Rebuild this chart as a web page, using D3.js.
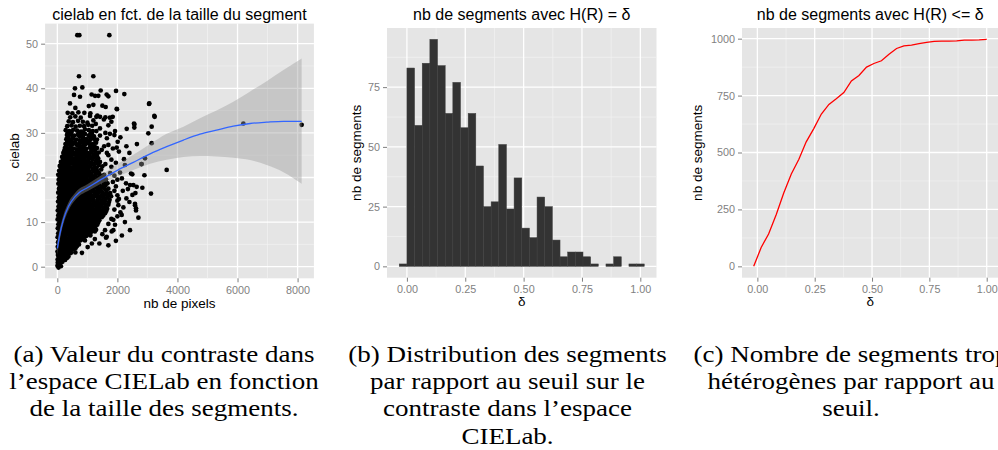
<!DOCTYPE html>
<html><head><meta charset="utf-8">
<script src="https://cdn.jsdelivr.net/npm/d3@7"></script>
<style>body{margin:0;background:#fff}svg{display:block}</style>
</head><body>
<svg id="chart" width="998" height="450"></svg>
<script>
// ---------- Panel (a): scatter cielab vs nb de pixels ----------
const titleA = "cielab en fct. de la taille du segment";
const scatterPoints = [
[5,0.2],[40,-0.2],[80,0.5],[120,0.1],[15,0.9],[60,1.1],
[10,1.6],[70,1.8],[140,1.4],[200,1.9],[260,1.5],
[20,2.6],[90,2.4],[160,2.8],[230,2.5],[300,2.7],[370,2.3],
[5,3.4],[70,3.6],[140,3.3],[210,3.8],[280,3.5],[350,3.6],[420,3.4],[490,3.9],[600,3.2],[820,3.1],
[15,4.5],[90,4.7],[170,4.4],[250,4.8],[330,4.5],[410,4.6],[490,4.4],[570,4.9],[650,4.6],[1010,4.4],
[25,5.5],[110,5.7],[190,5.4],[270,5.6],[350,5.8],[430,5.5],[510,5.4],[590,5.7],[680,5.5],[760,5.9],[1150,5.2],
[10,6.6],[95,6.4],[180,6.7],[265,6.5],[350,6.3],[440,6.8],[525,6.5],[610,6.6],[700,6.4],[790,6.7],[880,6.5],[960,6.9],[1250,6.2],[1621,6.5],[1644,6.7],
[30,7.5],[120,7.7],[210,7.4],[300,7.6],[390,7.5],[480,7.8],[570,7.4],[660,7.6],[750,7.5],[840,7.7],[930,7.4],[1020,7.8],[1110,7.6],[1500,7.3],[1810,7.9],
[15,8.6],[105,8.4],[195,8.7],[285,8.5],[375,8.3],[465,8.8],[555,8.6],[645,8.4],[735,8.7],[825,8.5],[915,8.6],[1010,8.4],[1100,8.8],[1200,8.5],[1290,8.3],[1588,8.2],[1865,8.2],[2420,8.2],
[35,9.5],[125,9.7],[215,9.4],[305,9.6],[395,9.5],[485,9.8],[575,9.4],[665,9.6],[755,9.5],[845,9.7],[935,9.3],[1030,9.6],[1120,9.5],[1220,9.8],[1330,9.4],[1700,9.6],[1921,9.4],
[10,10.6],[100,10.4],[190,10.7],[280,10.5],[370,10.3],[460,10.8],[550,10.6],[640,10.4],[730,10.7],[820,10.5],[910,10.6],[1000,10.3],[1090,10.8],[1180,10.5],[1280,10.6],[1400,10.4],[1800,10.7],[1865,10.5],
[30,11.5],[120,11.7],[210,11.4],[300,11.6],[390,11.5],[480,11.8],[570,11.4],[660,11.6],[750,11.5],[840,11.7],[930,11.3],[1020,11.6],[1110,11.5],[1200,11.8],[1300,11.4],[1420,11.6],[1530,11.5],[2000,11.3],[2143,11.6],
[15,12.6],[105,12.4],[195,12.7],[285,12.5],[375,12.3],[465,12.8],[555,12.6],[645,12.4],[735,12.7],[825,12.5],[915,12.6],[1005,12.3],[1095,12.8],[1190,12.5],[1290,12.6],[1400,12.4],[1520,12.7],[1630,12.5],[2100,12.2],[2620,12.6],[2620,13.1],
[40,13.5],[130,13.7],[220,13.4],[310,13.6],[400,13.5],[490,13.8],[580,13.4],[670,13.6],[760,13.5],[850,13.7],[940,13.3],[1030,13.6],[1130,13.5],[1240,13.8],[1350,13.4],[1470,13.6],[1600,13.5],[1700,13.9],[2200,13.3],[2032,13.8],[2587,13.8],
[25,14.6],[115,14.4],[205,14.7],[295,14.5],[385,14.3],[475,14.8],[565,14.6],[655,14.4],[745,14.7],[835,14.5],[925,14.6],[1020,14.3],[1120,14.8],[1230,14.5],[1340,14.6],[1460,14.4],[1580,14.7],[1720,14.5],[2000,14.8],[2586,14.1],
[50,15.5],[140,15.7],[230,15.4],[320,15.6],[410,15.5],[500,15.8],[590,15.4],[680,15.6],[770,15.5],[860,15.7],[950,15.3],[1050,15.6],[1160,15.5],[1280,15.8],[1400,15.4],[1530,15.6],[1660,15.5],[1790,15.8],[2300,15.3],[2500,16.1],[2000,16.0],
[30,16.6],[120,16.4],[210,16.7],[300,16.5],[390,16.3],[480,16.8],[570,16.6],[660,16.4],[750,16.7],[840,16.5],[930,16.6],[1030,16.3],[1140,16.8],[1260,16.5],[1380,16.6],[1510,16.4],[1640,16.7],[1760,16.5],[3119,16.4],[1900,17.0],
[55,17.5],[145,17.7],[235,17.4],[325,17.6],[415,17.5],[505,17.8],[595,17.4],[685,17.6],[775,17.5],[865,17.7],[960,17.3],[1060,17.6],[1170,17.5],[1290,17.8],[1420,17.4],[1560,17.6],[1700,17.5],[2350,17.4],[2642,17.9],[2831,17.7],
[35,18.6],[125,18.4],[215,18.7],[305,18.5],[395,18.3],[485,18.8],[575,18.6],[665,18.4],[755,18.7],[845,18.5],[940,18.6],[1040,18.3],[1150,18.8],[1270,18.5],[1400,18.6],[1540,18.4],[1670,18.7],[2287,18.7],[2531,18.3],[2420,18.3],[1850,19.0],
[45,19.5],[135,19.7],[225,19.4],[315,19.6],[405,19.5],[495,19.8],[590,19.4],[690,19.6],[790,19.5],[890,19.7],[990,19.3],[1100,19.6],[1220,19.5],[1350,19.8],[1480,19.4],[1620,19.6],[2000,19.5],
[30,20.6],[130,20.4],[230,20.7],[330,20.5],[430,20.3],[530,20.8],[630,20.6],[730,20.4],[830,20.7],[930,20.5],[1040,20.6],[1160,20.3],[1290,20.8],[1420,20.5],[1560,20.6],[1900,20.4],[2453,20.9],[2497,20.7],[1760,21.0],
[60,21.5],[160,21.7],[260,21.4],[360,21.6],[460,21.5],[560,21.8],[660,21.4],[760,21.6],[860,21.5],[960,21.7],[1070,21.3],[1190,21.6],[1320,21.5],[1460,21.8],[2087,21.1],[3641,21.7],
[80,22.6],[180,22.4],[280,22.7],[380,22.5],[480,22.3],[580,22.8],[680,22.6],[780,22.4],[880,22.7],[990,22.5],[1110,22.6],[1240,22.3],[1380,22.8],[1500,22.5],[1800,22.4],[1600,23.0],
[120,23.5],[220,23.7],[320,23.4],[420,23.6],[520,23.5],[620,23.8],[720,23.4],[820,23.6],[920,23.5],[1030,23.7],[1150,23.3],[1280,23.6],[1420,23.5],[2797,23.0],[2808,23.0],[1800,24.0],
[160,24.6],[260,24.4],[360,24.7],[460,24.5],[560,24.3],[660,24.8],[760,24.6],[860,24.4],[970,24.7],[1090,24.5],[1220,24.6],[1360,24.3],[2220,24.1],[2919,24.3],[1700,25.0],
[200,25.5],[300,25.7],[400,25.4],[500,25.6],[600,25.5],[700,25.8],[800,25.4],[900,25.6],[1010,25.5],[1130,25.7],[1260,25.3],[1380,25.6],[1650,25.5],[1480,26.2],
[250,26.6],[350,26.4],[450,26.7],[550,26.5],[650,26.3],[750,26.8],[850,26.6],[960,26.4],[1080,26.7],[1200,26.5],[1320,26.6],[1977,26.7],[1560,27.0],
[270,27.5],[380,27.7],[490,27.4],[600,27.6],[710,27.5],[820,27.8],[930,27.4],[1050,27.6],[1170,27.5],[1290,27.8],[1700,27.3],[3141,27.7],[2010,28.0],
[300,28.6],[410,28.4],[520,28.7],[630,28.5],[740,28.3],[850,28.8],[970,28.6],[1090,28.4],[1210,28.7],[1320,28.5],[1650,28.8],
[320,29.5],[440,29.7],[560,29.4],[680,29.6],[800,29.5],[920,29.8],[1040,29.4],[1160,29.6],[1420,29.4],[1900,29.5],[3030,29.9],[1600,30.0],
[280,30.6],[400,30.4],[530,30.7],[660,30.5],[790,30.3],[920,30.8],[1050,30.6],[1180,30.4],[1300,30.4],[1921,30.4],[2310,30.9],[2564,31.2],[3141,31.4],
[330,31.5],[470,31.7],[610,31.4],[750,31.6],[890,31.5],[1030,31.8],[1160,31.6],[1420,31.0],[1700,31.7],[2553,32.1],[2565,31.9],
[380,32.6],[520,32.4],[690,32.7],[850,32.5],[1000,32.3],[1200,32.8],[1280,32.0],[1550,33.0],[1800,32.5],
[430,33.5],[600,33.7],[780,33.4],[1089,33.8],[1300,33.6],[1333,33.9],[1422,33.6],[1600,33.5],[1750,33.4],[1844,33.6],[3241,33.6],[3230,33.8],
[346,34.5],[500,34.4],[700,34.6],[900,34.5],[1100,34.4],[1987,35.3],[1977,35.4],
[600,35.6],[1050,36.0],[1500,36.1],[1610,35.8],[1199,36.3],[422,36.6],[3053,36.5],[3063,36.6],
[556,38.5],[755,38.1],[1143,38.6],[1256,38.3],[1366,38.3],[1643,38.6],[1700,38.2],[2231,38.7],
[1444,39.5],[1954,39.4],[588,40.0],[833,40.2],[721,42.7],[1199,42.7],
[666,51.9],[733,51.9],[1732,51.9],[6194,32.1],[8136,31.8],
[40,1.0],[100,0.9],[170,1.1],
[45,2.0],[120,2.1],[190,1.9],[260,2.2],[330,2.0],
[35,3.0],[105,3.1],[175,2.9],[245,3.2],[315,3.0],[385,2.9],[455,3.1],
[50,4.0],[130,4.1],[210,3.9],[290,4.2],[370,4.0],[450,4.1],[530,3.9],[610,4.2],
[60,5.0],[150,5.1],[230,4.9],[310,5.2],[390,5.0],[470,5.1],[550,4.9],[630,5.2],[720,5.0],
[65,6.0],[150,6.1],[230,5.9],[310,6.2],[390,6.0],[480,6.1],[570,5.9],[650,6.2],[740,6.0],[830,6.1],[920,5.9],
[50,7.0],[140,7.1],[225,6.9],[310,7.2],[395,7.0],[485,7.1],[570,6.9],[655,7.2],[745,7.0],[835,7.1],[920,6.9],[1010,7.2],[1100,7.0],
[75,8.0],[165,8.1],[255,7.9],[345,8.2],[435,8.0],[525,8.1],[615,7.9],[705,8.2],[795,8.0],[885,8.1],[975,7.9],[1065,8.2],[1160,8.0],[1250,7.9],
[60,9.0],[150,9.1],[240,8.9],[330,9.2],[420,9.0],[510,9.1],[600,8.9],[690,9.2],[780,9.0],[870,9.1],[960,8.9],[1060,9.2],[1160,9.0],[1270,9.1],
[70,10.0],[160,10.1],[250,9.9],[340,10.2],[430,10.0],[520,10.1],[610,9.9],[700,10.2],[790,10.0],[880,10.1],[970,9.9],[1060,10.2],[1150,10.0],[1250,10.1],[1360,9.9],
[60,11.0],[150,11.1],[240,10.9],[330,11.2],[420,11.0],[510,11.1],[600,10.9],[690,11.2],[780,11.0],[870,11.1],[960,10.9],[1050,11.2],[1150,11.0],[1250,11.1],[1360,10.9],[1480,11.1],
[70,12.0],[160,12.1],[250,11.9],[340,12.2],[430,12.0],[520,12.1],[610,11.9],[700,12.2],[790,12.0],[880,12.1],[970,11.9],[1060,12.2],[1150,12.0],[1250,12.1],[1350,11.9],[1470,12.1],[1590,12.0],
[60,13.0],[150,13.1],[240,12.9],[330,13.2],[420,13.0],[510,13.1],[600,12.9],[690,13.2],[780,13.0],[870,13.1],[960,12.9],[1060,13.2],[1160,13.0],[1290,13.1],[1410,12.9],[1540,13.2],[1660,13.0],
[80,14.0],[170,14.1],[260,13.9],[350,14.2],[440,14.0],[530,14.1],[620,13.9],[710,14.2],[800,14.0],[890,14.1],[980,13.9],[1080,14.2],[1180,14.0],[1300,14.1],[1420,13.9],[1530,14.2],[1650,14.0],
[70,15.0],[160,15.1],[250,14.9],[340,15.2],[430,15.0],[520,15.1],[610,14.9],[700,15.2],[790,15.0],[880,15.1],[980,14.9],[1090,15.2],[1200,15.0],[1340,15.1],[1470,14.9],[1600,15.2],[1740,15.0],
[90,16.0],[180,16.1],[270,15.9],[360,16.2],[450,16.0],[540,16.1],[630,15.9],[720,16.2],[810,16.0],[900,16.1],[1000,15.9],[1100,16.2],[1210,16.0],[1330,16.1],[1460,15.9],[1590,16.2],[1720,16.0],
[80,17.0],[170,17.1],[260,16.9],[350,17.2],[440,17.0],[530,17.1],[620,16.9],[710,17.2],[800,17.0],[900,17.1],[1000,16.9],[1110,17.2],[1220,17.0],[1350,17.1],[1480,16.9],[1620,17.2],
[90,18.0],[180,18.1],[270,17.9],[360,18.2],[450,18.0],[540,18.1],[630,17.9],[720,18.2],[810,18.0],[900,18.1],[990,17.9],[1100,18.2],[1210,18.0],[1340,18.1],[1470,17.9],[1600,18.2],
[80,19.0],[170,19.1],[260,18.9],[350,19.2],[440,19.0],[540,19.1],[640,18.9],[740,19.2],[840,19.0],[940,19.1],[1040,18.9],[1160,19.2],[1280,19.0],[1410,19.1],[1550,18.9],
[90,20.0],[180,20.1],[280,19.9],[380,20.2],[480,20.0],[580,20.1],[680,19.9],[780,20.2],[880,20.0],[980,20.1],[1100,19.9],[1220,20.2],[1350,20.0],[1490,20.1],
[100,21.0],[200,21.1],[300,20.9],[400,21.2],[500,21.0],[600,21.1],[700,20.9],[800,21.2],[900,21.0],[1010,21.1],[1130,20.9],[1260,21.2],[1390,21.0],
[120,22.0],[220,22.1],[320,21.9],[420,22.2],[520,22.0],[620,22.1],[720,21.9],[820,22.2],[920,22.0],[1040,22.1],[1170,21.9],[1310,22.2],
[140,23.0],[250,23.1],[350,22.9],[450,23.2],[550,23.0],[650,23.1],[750,22.9],[850,23.2],[960,23.0],[1090,23.1],[1220,22.9],[1350,23.2],
[190,24.0],[290,24.1],[390,23.9],[490,24.2],[590,24.0],[690,24.1],[790,23.9],[900,24.2],[1030,24.0],[1160,24.1],[1300,23.9],
[230,25.0],[330,25.1],[430,24.9],[530,25.2],[630,25.0],[730,25.1],[840,24.9],[950,25.2],[1070,25.0],[1200,25.1],[1320,24.9],
[230,26.0],[300,26.1],[400,25.9],[500,26.2],[700,26.1],[800,25.9],[910,26.2],[1140,26.1],[1260,25.9],
[300,27.0],[430,27.1],[660,27.2],[770,27.0],[880,27.1],[1120,27.2],[1240,27.0],
[330,28.0],[460,28.1],[580,27.9],[800,28.0],[910,28.1],[1030,27.9],[1270,28.0],
[360,29.0],[500,29.1],[740,29.2],[860,29.0],[1100,28.9],[1220,29.2],
[340,30.0],[470,30.1],[730,30.2],[860,30.0],[1110,29.9],
[1900,12.8],[2050,15.2],[2180,17.0],[1950,18.0],[2150,19.8],[2250,22.8],[1950,23.3],[2050,25.8],[1850,26.5],[2300,27.0],
[2100,29.0],[1750,29.8],[2400,14.5],[2250,10.0],[2150,7.0],[1950,5.8],[1700,4.8],[1400,5.2],[2700,11.0],[2900,20.5],
[2400,25.5],[2650,27.5],[2600,16.5]
];
const smoothX  = [0,   90,  200, 370, 590, 720, 1000,1420,2000,2530,3090,3640,4200,4750,5300,5860,6420,6970,7530,8136];
const smoothY  = [4.1, 7.5, 10.5,13.5,15.7,16.6,17.7,19.4,21.6,23.4,25.3,26.9,28.4,29.7,30.6,31.5,32.1,32.4,32.6,32.6];
const smoothLo = [2.6, 6.3, 9.5, 12.6,14.9,15.8,16.9,18.5,20.2,21.7,23.1,24.0,24.6,24.8,24.7,24.4,23.9,22.8,21.2,18.6];
const smoothHi = [5.6, 8.7, 11.5,14.4,16.5,17.4,18.5,20.3,23.0,25.1,27.5,29.8,31.4,33.3,35.0,37.0,39.3,41.6,44.1,46.7];
const xTicksA = [0, 2000, 4000, 6000, 8000];
const xMinorA = [1000, 3000, 5000, 7000];
const yTicksA = [0, 10, 20, 30, 40, 50];
const yMinorA = [5, 15, 25, 35, 45];

// ---------- Panel (b): histogram ----------
const titleB = "nb de segments avec H(R) = \u03b4";
const binStart = [-0.0328,0,0.0328,0.0656,0.0984,0.1312,0.164,0.1968,0.2296,0.2624,0.2952,0.328,0.3608,0.3936,0.4264,0.4592,0.492,0.5248,0.5576,0.5904,0.6232,0.656,0.6888,0.7216,0.7544,0.7872,0.82,0.8528,0.8856,0.9184,0.9512,0.984];
const binCounts = [1,83,59,85,95,84,64,77,58,64,42,25,27,51,24,37,16,12,29,25,11,4,6,6,4,1,0,1,4,0,1,1];
const binWidth = 0.0328;
const deltaTicks = [0, 0.25, 0.5, 0.75, 1];
const deltaMinor = [0.125, 0.375, 0.625, 0.875];
const yTicksB = [0, 25, 50, 75];
const yMinorB = [12.5, 37.5, 62.5, 87.5];

// ---------- Panel (c): cumulative ----------
const titleC = "nb de segments avec H(R) <= \u03b4";
const cumDelta = [-0.016,0.017,0.049,0.082,0.115,0.148,0.181,0.213,0.246,0.279,0.312,0.344,0.377,0.410,0.443,0.476,0.508,0.541,0.574,0.607,0.639,0.672,0.705,0.738,0.771,0.803,0.836,0.869,0.902,0.935,0.967,1.000];
const cumCount = [0,84,142,227,322,406,470,547,605,669,711,736,763,814,838,875,891,903,932,957,968,972,978,984,988,989,989,990,994,994,995,997];
const yTicksC = [0, 250, 500, 750, 1000];
const yMinorC = [125, 375, 625, 875];

// ---------- Captions ----------
const captionA = ["(a) Valeur du contraste dans", "l\u2019espace CIELab en fonction", "de la taille des segments."];
const captionB = ["(b) Distribution des segments", "par rapport au seuil sur le", "contraste dans l\u2019espace", "CIELab."];
const captionC = ["(c) Nombre de segments trop", "h\u00e9t\u00e9rog\u00e8nes par rapport au", "seuil."];

// ================= drawing =================
const svg = d3.select("#chart");
const SANS = "'Liberation Sans', Arial, Helvetica, sans-serif";
const SERIF = "'Liberation Serif', 'Times New Roman', serif";
const TICKCOL = "#7f7f7f";

function panel(opts) {
  const {x0, x1, y0, y1, xDomain, yDomain, xTicks, xMinor, yTicks, yMinor, xFmt, yFmt, title, xTitle, xTitleY, yTitle, yTitleX, id} = opts;
  const x = d3.scaleLinear().domain(xDomain).range([x0, x1]);
  const y = d3.scaleLinear().domain(yDomain).range([y1, y0]);
  const g = svg.append("g");
  g.append("rect").attr("x", x0).attr("y", y0).attr("width", x1 - x0).attr("height", y1 - y0).attr("fill", "#e5e5e5");
  svg.append("clipPath").attr("id", id).append("rect").attr("x", x0).attr("y", y0).attr("width", x1 - x0).attr("height", y1 - y0);
  const grid = g.append("g");
  grid.selectAll(".mx").data(xMinor).enter().append("line")
    .attr("x1", d => x(d)).attr("x2", d => x(d)).attr("y1", y0).attr("y2", y1)
    .attr("stroke", "#f2f2f2").attr("stroke-width", 0.7);
  grid.selectAll(".my").data(yMinor).enter().append("line")
    .attr("y1", d => y(d)).attr("y2", d => y(d)).attr("x1", x0).attr("x2", x1)
    .attr("stroke", "#f2f2f2").attr("stroke-width", 0.7);
  grid.selectAll(".Mx").data(xTicks).enter().append("line")
    .attr("x1", d => x(d)).attr("x2", d => x(d)).attr("y1", y0).attr("y2", y1)
    .attr("stroke", "#ffffff").attr("stroke-width", 1.3);
  grid.selectAll(".My").data(yTicks).enter().append("line")
    .attr("y1", d => y(d)).attr("y2", d => y(d)).attr("x1", x0).attr("x2", x1)
    .attr("stroke", "#ffffff").attr("stroke-width", 1.3);
  const ax = g.append("g").attr("transform", `translate(0,${y1})`)
    .call(d3.axisBottom(x).tickValues(xTicks).tickFormat(xFmt).tickSize(4).tickPadding(4));
  const ay = g.append("g").attr("transform", `translate(${x0},0)`)
    .call(d3.axisLeft(y).tickValues(yTicks).tickFormat(yFmt).tickSize(4).tickPadding(3));
  [ax, ay].forEach(a => {
    a.select(".domain").remove();
    a.selectAll(".tick line").attr("stroke", TICKCOL).attr("stroke-width", 1);
    a.selectAll(".tick text").attr("fill", TICKCOL).attr("font-family", SANS).attr("font-size", 10.8);
  });
  svg.append("text").attr("x", (x0 + x1) / 2).attr("y", 20).attr("text-anchor", "middle")
    .attr("font-family", SANS).attr("font-size", 16).attr("fill", "#000").text(title);
  svg.append("text").attr("x", (x0 + x1) / 2).attr("y", xTitleY).attr("text-anchor", "middle")
    .attr("font-family", SANS).attr("font-size", 13.5).attr("fill", "#000").text(xTitle);
  svg.append("text").attr("transform", `translate(${yTitleX},${(y0 + y1) / 2}) rotate(-90)`).attr("text-anchor", "middle")
    .attr("font-family", SANS).attr("font-size", 13.5).attr("fill", "#000").text(yTitle);
  const plot = svg.append("g").attr("clip-path", `url(#${id})`);
  return {x, y, plot};
}

const fmt2 = d3.format(".2f");
const fmt0 = d3.format("d");

// Panel A
const A = panel({x0: 45.1, x1: 313.9, y0: 23.6, y1: 278.3, xDomain: [-407, 8543], yDomain: [-2.6, 54.5],
  xTicks: xTicksA, xMinor: xMinorA, yTicks: yTicksA, yMinor: yMinorA, xFmt: fmt0, yFmt: fmt0,
  title: titleA, xTitle: "nb de pixels", xTitleY: 308, yTitle: "cielab", yTitleX: 19, id: "clipA"});
A.plot.selectAll("circle").data(scatterPoints).enter().append("circle")
  .attr("cx", d => A.x(d[0])).attr("cy", d => A.y(d[1])).attr("r", 2.35).attr("fill", "#000");
const smooth = smoothX.map((v, i) => ({x: v, y: smoothY[i], lo: smoothLo[i], hi: smoothHi[i]}));
A.plot.append("path").datum(smooth)
  .attr("d", d3.area().x(d => A.x(d.x)).y0(d => A.y(d.lo)).y1(d => A.y(d.hi)).curve(d3.curveMonotoneX))
  .attr("fill", "#999999").attr("fill-opacity", 0.4);
A.plot.append("path").datum(smooth)
  .attr("d", d3.line().x(d => A.x(d.x)).y(d => A.y(d.y)).curve(d3.curveMonotoneX))
  .attr("fill", "none").attr("stroke", "#3366ff").attr("stroke-width", 1.3);

// Panel B
const B = panel({x0: 387, x1: 656.5, y0: 28, y1: 277.7, xDomain: [-0.0853, 1.0693], yDomain: [-4.75, 99.75],
  xTicks: deltaTicks, xMinor: deltaMinor, yTicks: yTicksB, yMinor: yMinorB, xFmt: fmt2, yFmt: fmt0,
  title: titleB, xTitle: "\u03b4", xTitleY: 306, yTitle: "nb de segments", yTitleX: 360.5, id: "clipB"});
const bins = binStart.map((s, i) => ({s, c: binCounts[i]})).filter(d => d.c > 0);
B.plot.selectAll("rect").data(bins).enter().append("rect")
  .attr("x", d => B.x(d.s)).attr("width", d => B.x(d.s + binWidth) - B.x(d.s))
  .attr("y", d => B.y(d.c)).attr("height", d => B.y(0) - B.y(d.c))
  .attr("fill", "#333333").attr("stroke", "#3f3f3f").attr("stroke-width", 0.5);

// Panel C
const C = panel({x0: 742, x1: 998.4, y0: 28, y1: 277.7, xDomain: [-0.067, 1.051], yDomain: [-49.85, 1046.85],
  xTicks: deltaTicks, xMinor: deltaMinor, yTicks: yTicksC, yMinor: yMinorC, xFmt: fmt2, yFmt: fmt0,
  title: titleC, xTitle: "\u03b4", xTitleY: 306, yTitle: "nb de segments", yTitleX: 702, id: "clipC"});
C.plot.append("path").datum(cumDelta.map((d, i) => [d, cumCount[i]]))
  .attr("d", d3.line().x(d => C.x(d[0])).y(d => C.y(d[1])))
  .attr("fill", "none").attr("stroke", "#ff0000").attr("stroke-width", 1.3);

// Captions
function caption(lines, cx) {
  lines.forEach((t, i) => {
    svg.append("text").attr("transform", `translate(${cx},${361.7 + i * 27.3}) scale(1.2,1)`)
      .attr("text-anchor", "middle").attr("font-family", SERIF).attr("font-size", 22.5)
      .attr("fill", "#000").text(t);
  });
}
caption(captionA, 164);
caption(captionB, 507.5);
caption(captionC, 851);
</script>
</body></html>
